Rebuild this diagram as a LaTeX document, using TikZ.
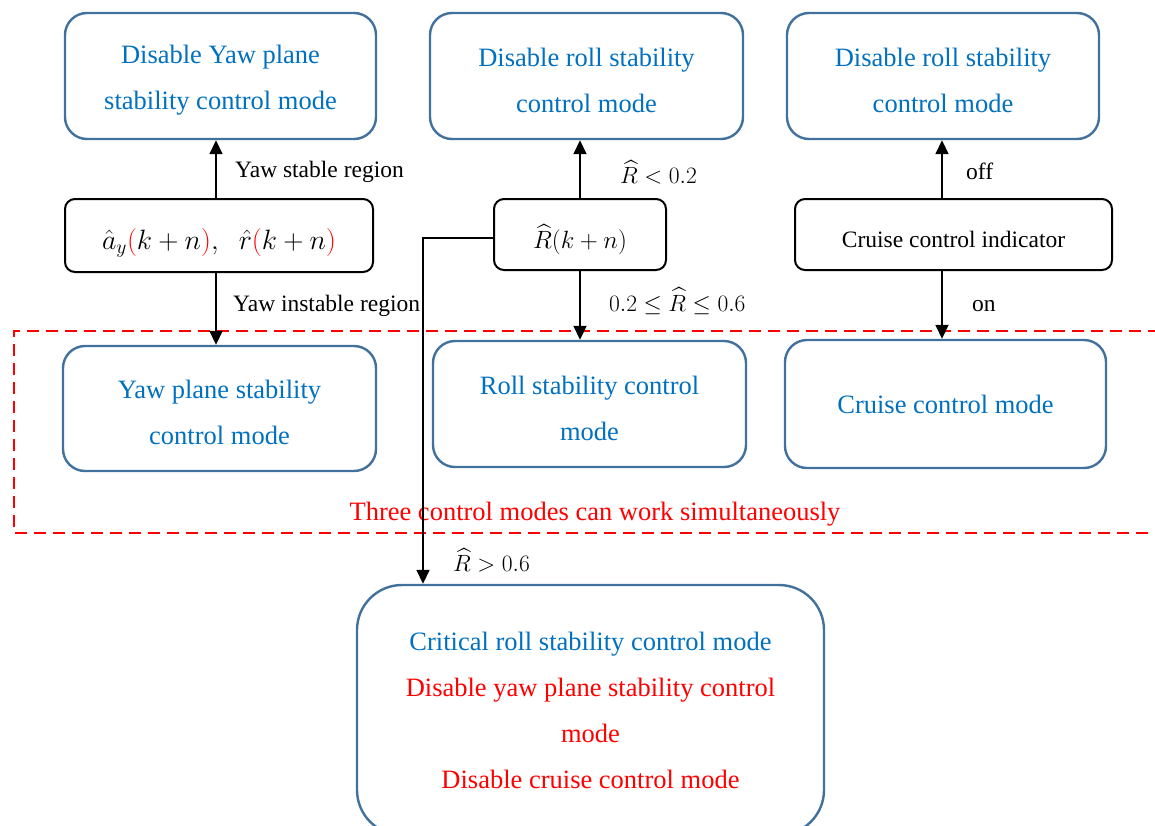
\RequirePackage{fix-cm}
\documentclass[tikz,border=0pt]{standalone}
\usepackage{fontspec}
\setmainfont{Liberation Serif}
\usepackage{amsmath}
\usetikzlibrary{arrows.meta}
\definecolor{modeblue}{RGB}{0,112,192}
\definecolor{boxblue}{RGB}{65,113,156}
\definecolor{alertred}{RGB}{255,0,0}
% extra height on a first line, to set the two-line texts a little lower
\newcommand\toppad{\rule{0pt}{27pt}}
\tikzset{
  modebox/.style={draw=boxblue, line width=2.4pt, rounded corners=22pt, align=center,
    text=modeblue, font=\fontsize{26.5}{46}\selectfont, inner sep=0pt},
  inputbox/.style={draw=black, line width=2pt, rounded corners=10pt,
    font=\fontsize{25}{30}\selectfont, inner sep=0pt, text depth=0pt},
  arr/.style={line width=1.7pt, -{Triangle[length=14pt,width=13pt]}},
  cond/.style={anchor=west, font=\fontsize{23.5}{28}\selectfont, inner sep=0pt},
}
\begin{document}
\begin{tikzpicture}[x=1pt,y=-1pt]
\clip (0,0) rectangle (1155,825);
\fill[white] (0,0) rectangle (1155,825);

% top row: disabled modes
\node[modebox, minimum width=311pt, minimum height=126pt] (yawdis) at (220.5,76)
  {\toppad Disable Yaw plane\\stability control mode};
\node[modebox, minimum width=313pt, minimum height=126pt] (rolldis) at (586.5,76)
  {\toppad Disable roll stability\\control mode};
\node[modebox, minimum width=312pt, minimum height=126pt] (rolldis2) at (943,76)
  {\toppad Disable roll stability\\control mode};

% middle row: predicted quantities / indicator
\node[inputbox, minimum width=308pt, minimum height=73pt, text height=27pt, font=\fontsize{28}{32}\selectfont] (yawin) at (219,235.5)
  {$\hat{a}_y{\color{alertred}(}k+n{\color{alertred})},\;\;\hat{r}{\color{alertred}(}k+n{\color{alertred})}$};
\node[inputbox, minimum width=172pt, minimum height=71pt, text height=28pt] (rhat) at (580,234.5)
  {$\widehat{R}(k+n)$};
\node[inputbox, minimum width=317pt, minimum height=71pt, text height=25pt, font=\fontsize{23.5}{28}\selectfont] (cruisein) at (953.5,234.5)
  {Cruise control indicator};

% active control modes
\node[modebox, minimum width=313pt, minimum height=125pt] (yawmode) at (219.5,408.5)
  {\toppad Yaw plane stability\\control mode};
\node[modebox, minimum width=313pt, minimum height=126pt] (rollmode) at (589.5,404)
  {\toppad Roll stability control\\mode};
\node[modebox, minimum width=321pt, minimum height=128pt] (cruisemode) at (945.5,404)
  {Cruise control mode};

% region in which the three modes run together
\draw[alertred, line width=2.6pt, dash pattern=on 12pt off 7pt]
  (1160,331) -- (14,331) -- (14,533) -- (1160,533);
\node[text=alertred, font=\fontsize{26.5}{30}\selectfont, inner sep=0pt] (together) at (595,514)
  {Three control modes can work simultaneously};

% critical mode
\node[modebox, rounded corners=45pt, minimum width=467pt, minimum height=250pt] (crit) at (590.5,710)
  {Critical roll stability control mode\\
   \textcolor{alertred}{Disable yaw plane stability control}\\
   \textcolor{alertred}{mode}\\
   \textcolor{alertred}{Disable cruise control mode}};

% yaw branch
\draw[arr] ([xshift=-3pt]yawin.north) -- ([xshift=-3pt]yawin.north |- yawdis.south);
\draw[arr] ([xshift=-3pt]yawin.south) -- ([xshift=-3pt]yawin.south |- yawmode.north);
\node[cond] (ystab) at (235,172) {Yaw stable region};
\node[cond] (yinst) at (233,306) {Yaw instable region};

% roll branch
\draw[arr] (rhat.north) -- (rhat.north |- rolldis.south);
\draw[arr] (rhat.south) -- (rhat.south |- rollmode.north);
\coordinate (bend) at (423,238);
\draw[arr] (rhat.west |- bend) -- (bend) -- (bend |- crit.north);
\node[cond] (rlow) at (620,172) {$\widehat{R}<0.2$};
\node[cond] (rmid) at (609,301) {$0.2\le\widehat{R}\le0.6$};
\node[cond] (rhigh) at (453,560) {$\widehat{R}>0.6$};

% cruise branch
\draw[arr] ([xshift=-11.5pt]cruisein.north) -- ([xshift=-11.5pt]cruisein.north |- rolldis2.south);
\draw[arr] ([xshift=-11.5pt]cruisein.south) -- ([xshift=-11.5pt]cruisein.south |- cruisemode.north);
\node[cond] (coff) at (966,171) {off};
\node[cond] (con) at (972,306) {on};
\end{tikzpicture}
\end{document}
